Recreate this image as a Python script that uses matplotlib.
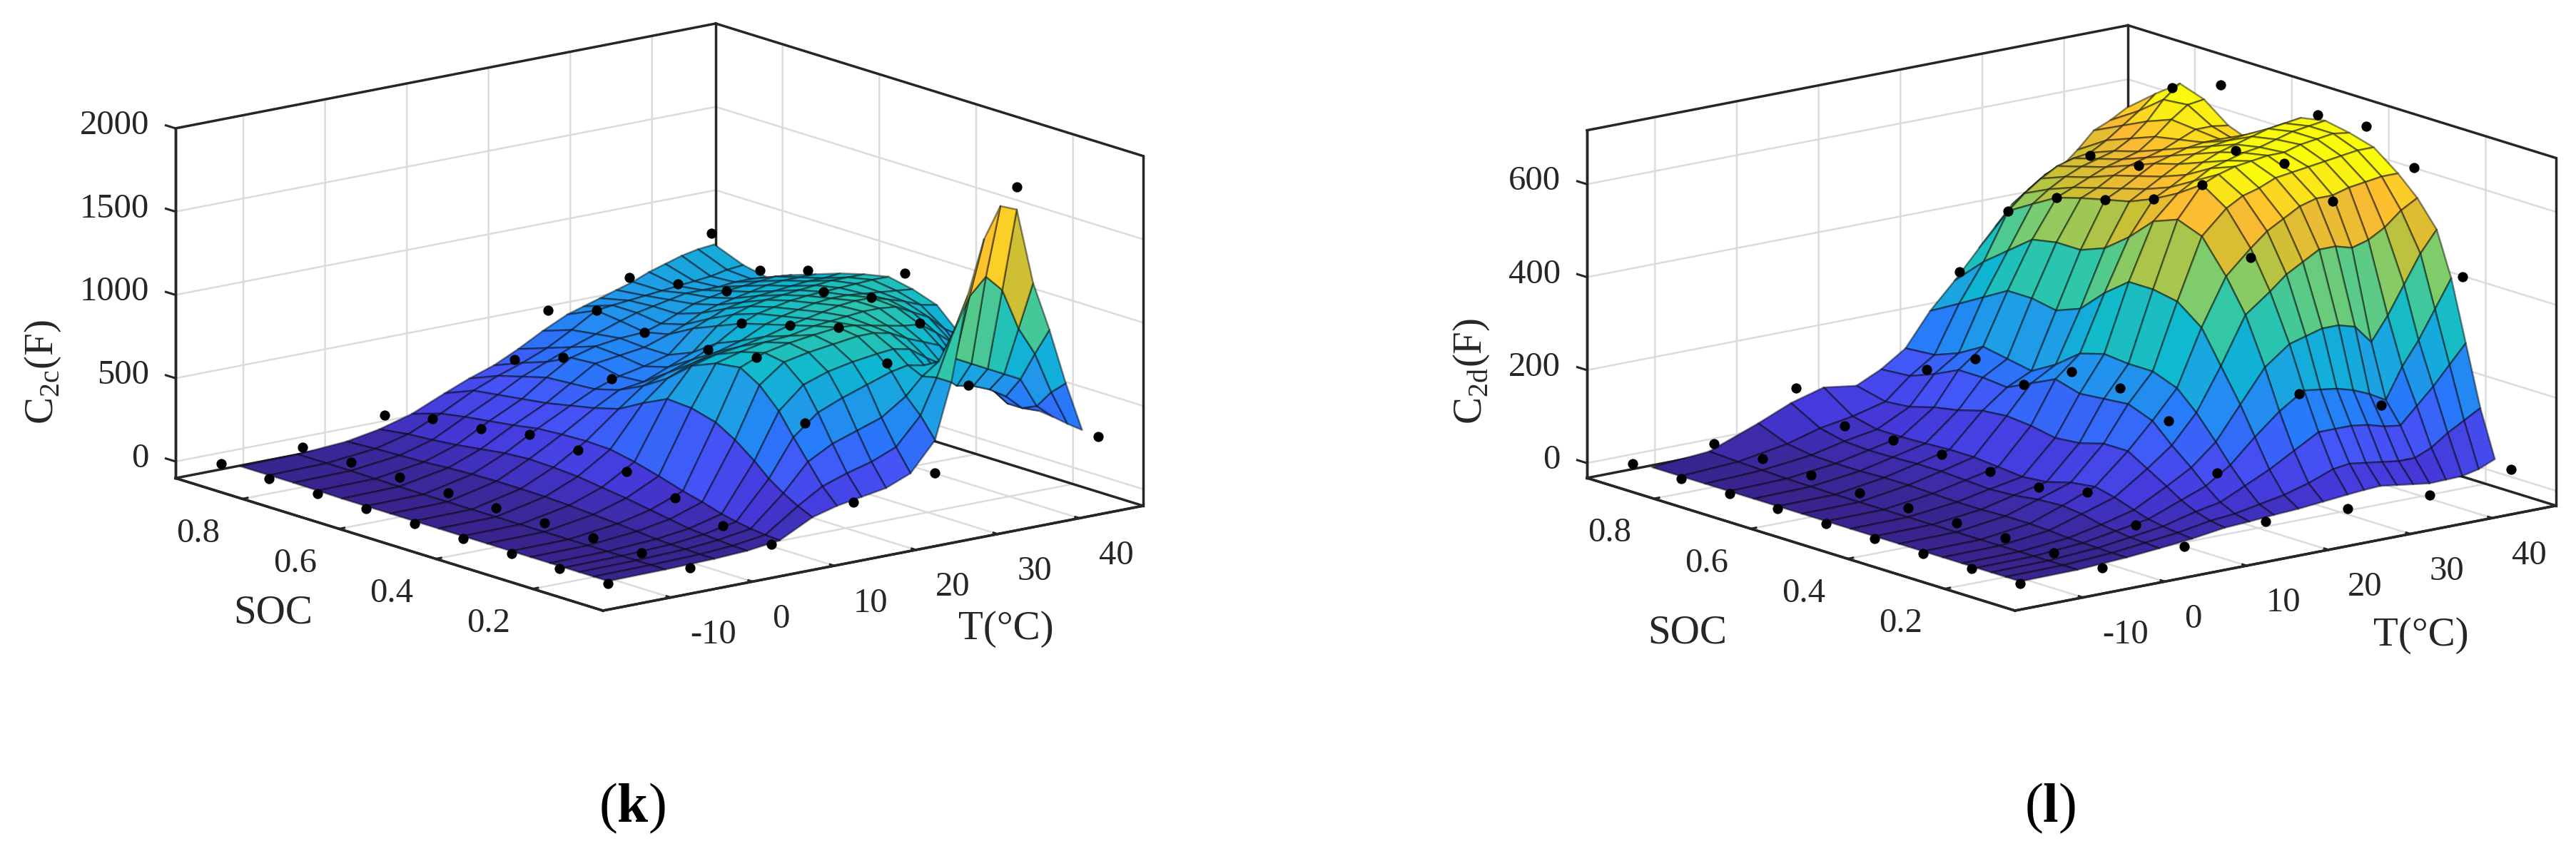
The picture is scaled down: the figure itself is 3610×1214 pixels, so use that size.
import numpy as np
import matplotlib
matplotlib.use('Agg')
import matplotlib.pyplot as plt
from matplotlib.colors import LinearSegmentedColormap
from mpl_toolkits.mplot3d import proj3d

plt.rcParams['font.family'] = ['Liberation Serif', 'DejaVu Serif']
plt.rcParams['mathtext.fontset'] = 'custom'
plt.rcParams['mathtext.rm'] = 'Liberation Serif'
plt.rcParams['mathtext.bf'] = 'Liberation Serif:bold'

# measured points: T in rows, SOC in columns
T_points = [-15, -5, 5, 15, 25, 35, 45]
SOC_points = [0.1, 0.2, 0.3, 0.4, 0.5, 0.6, 0.7, 0.8, 0.9]

# nan = the dot is hidden behind the surface in the picture
nan = np.nan
dots_k = [
    [-10, -10, -10, -10, -10, -10, -10, -10, -10],
    [-10, -10, -10, -10, -10, -10, -5, -5, -5],
    [35, 58, 133, 202, 240, 245, 188, 160, 92],
    [193, 578, 884, 840, nan, 483, 522, 421, nan],
    [275, 842, 966, 890, 811, nan, 578, 618, 528],
    [1898, 614, 897, 963, 906, nan, 729, 685, 633],
    [300, nan, nan, nan, 924, nan, 761, 671, 803],
]
dots_l = [
    [0, 0, 0, 0, 0, 0, 0, 0, 0],
    [0, 0, 0, 0, 0, 0, 5, 8, 8],
    [12, 25, 64, 42, 44, 49, 46, 45, 94],
    [32, 103, 184, 221, 225, 165, 187, 132, nan],
    [25, 240, 500, 625, 562, 528, 500, 439, 276],
    [20, 181, 588, 637, 632, nan, 535, 524, nan],
    [41, 423, 625, 683, 674, nan, 675, 636, nan],
]

# fitted surfaces
T_mesh = [-15, -8, -2, 2, 6, 10, 13, 16, 19, 22, 25, 27, 29, 31, 33, 35, 37, 39, 41, 43]
SOC_mesh = [0.10, 0.13, 0.16, 0.19, 0.22, 0.26, 0.30, 0.35, 0.40,
            0.45, 0.50, 0.55, 0.60, 0.65, 0.70, 0.75, 0.80, 0.86]
surf_k = [
    [5, 5, 5, 5, 5, 5, 5, 5, 5, 5, 5, 5, 5, 5, 8, 10, 10, 10],
    [8, 8, 8, 8, 8, 8, 8, 8, 8, 8, 8, 8, 8, 10, 12, 15, 15, 15],
    [15, 15, 18, 20, 25, 35, 45, 55, 65, 72, 75, 75, 72, 65, 55, 50, 45, 35],
    [25, 28, 35, 42, 50, 70, 90, 115, 135, 155, 165, 170, 160, 140, 120, 105, 95, 70],
    [50, 55, 65, 80, 100, 135, 165, 210, 250, 280, 285, 280, 270, 245, 225, 205, 180, 125],
    [150, 190, 240, 300, 380, 470, 540, 580, 590, 520, 440, 400, 370, 340, 320, 300, 280, 210],
    [190, 280, 400, 520, 650, 770, 840, 820, 760, 640, 550, 480, 440, 430, 420, 380, 340, 270],
    [215, 330, 480, 640, 780, 880, 900, 860, 800, 700, 600, 500, 490, 520, 510, 440, 390, 320],
    [240, 370, 530, 700, 830, 910, 930, 890, 820, 740, 650, 560, 520, 540, 550, 500, 450, 390],
    [300, 430, 580, 750, 860, 930, 950, 900, 850, 780, 720, 620, 560, 560, 570, 550, 530, 470],
    [470, 590, 680, 800, 880, 950, 966, 930, 890, 850, 810, 750, 690, 610, 578, 600, 618, 540],
    [800, 800, 780, 820, 890, 950, 960, 940, 910, 880, 850, 800, 730, 650, 610, 630, 630, 570],
    [1300, 1050, 850, 800, 870, 930, 940, 950, 930, 900, 870, 830, 770, 700, 650, 650, 640, 600],
    [1620, 1250, 850, 720, 800, 880, 920, 960, 950, 920, 890, 850, 790, 730, 690, 670, 650, 630],
    [1800, 1350, 800, 640, 740, 840, 900, 960, 960, 930, 900, 860, 810, 750, 710, 690, 660, 660],
    [1760, 1250, 750, 620, 680, 800, 890, 950, 960, 930, 905, 870, 820, 770, 730, 690, 670, 700],
    [1300, 1000, 700, 580, 620, 700, 820, 900, 930, 920, 910, 880, 830, 790, 740, 690, 680, 730],
    [1000, 830, 650, 520, 540, 620, 740, 850, 900, 910, 915, 890, 840, 800, 750, 700, 690, 760],
    [660, 580, 470, 430, 430, 500, 610, 760, 860, 900, 920, 890, 840, 800, 760, 700, 710, 780],
    [360, 370, 385, 395, 405, 430, 520, 700, 840, 890, 920, 890, 850, 800, 750, 690, 720, 790],
]
surf_l = [
    [5, 5, 5, 5, 5, 5, 5, 5, 5, 5, 5, 5, 5, 5, 5, 5, 5, 5],
    [6, 6, 6, 6, 6, 6, 6, 6, 6, 6, 6, 6, 6, 7, 8, 10, 12, 15],
    [12, 12, 13, 14, 15, 18, 20, 20, 18, 18, 20, 22, 22, 20, 20, 22, 30, 55],
    [18, 20, 22, 26, 30, 40, 45, 42, 35, 32, 35, 38, 38, 36, 35, 38, 50, 85],
    [25, 28, 32, 38, 48, 62, 72, 65, 50, 45, 50, 55, 55, 52, 50, 50, 62, 105],
    [35, 40, 50, 65, 85, 110, 135, 135, 120, 115, 125, 130, 125, 110, 100, 85, 80, 95],
    [38, 45, 60, 85, 115, 150, 190, 210, 205, 200, 215, 190, 165, 170, 170, 145, 125, 120],
    [42, 55, 85, 120, 160, 210, 250, 270, 270, 275, 260, 220, 190, 200, 210, 180, 160, 155],
    [45, 65, 110, 170, 230, 300, 370, 410, 420, 420, 380, 330, 310, 320, 320, 290, 260, 225],
    [50, 80, 140, 215, 300, 400, 470, 540, 560, 540, 490, 450, 430, 430, 420, 380, 340, 280],
    [55, 100, 170, 250, 340, 440, 520, 590, 625, 590, 562, 540, 528, 515, 500, 470, 439, 340],
    [58, 105, 170, 245, 350, 470, 550, 610, 640, 610, 580, 560, 545, 530, 515, 495, 470, 380],
    [60, 100, 170, 240, 360, 490, 570, 620, 650, 630, 600, 580, 565, 550, 530, 515, 495, 420],
    [55, 95, 165, 230, 360, 510, 590, 635, 655, 640, 620, 600, 585, 565, 545, 530, 515, 445],
    [50, 90, 155, 215, 350, 510, 600, 640, 660, 650, 635, 615, 595, 575, 555, 540, 525, 470],
    [45, 90, 150, 195, 310, 500, 600, 645, 660, 655, 645, 625, 605, 585, 565, 550, 530, 480],
    [46, 105, 185, 260, 360, 510, 610, 650, 670, 665, 655, 630, 610, 600, 590, 570, 550, 510],
    [47, 130, 220, 310, 420, 530, 615, 655, 675, 675, 665, 635, 610, 615, 620, 600, 575, 545],
    [55, 150, 260, 370, 480, 560, 620, 660, 680, 680, 670, 635, 600, 615, 645, 640, 600, 560],
    [70, 170, 300, 430, 525, 580, 620, 660, 675, 685, 675, 630, 590, 610, 650, 668, 630, 580],
]

T_ticks = [-10, 0, 10, 20, 30, 40]
SOC_ticks = [0.2, 0.4, 0.6, 0.8]
z_ticks_k = [0, 500, 1000, 1500, 2000]
z_ticks_l = [0, 200, 400, 600]

W, H = 3610, 1214
DARK = (0.15, 0.15, 0.15)
GRID = (0.86, 0.86, 0.86)

parula = LinearSegmentedColormap.from_list('parula_like', [
    (0.22, 0.14, 0.55), (0.27, 0.22, 0.85), (0.27, 0.33, 0.97),
    (0.15, 0.48, 0.98), (0.12, 0.62, 0.90), (0.05, 0.72, 0.82),
    (0.20, 0.78, 0.65), (0.50, 0.80, 0.42), (0.80, 0.75, 0.20),
    (0.99, 0.73, 0.20), (0.98, 0.98, 0.05)])


def make_panel(fig, dots, surf, z_ticks, zlim, zaspect, cmax, left_x, right_x, near_y):
    xlim = (-18.3, 47.8)
    ylim = (0.055, 0.938)
    ax = fig.add_axes([0.1, 0.1, 0.3, 0.3], projection='3d', proj_type='ortho',
                      computed_zorder=False)
    ax.view_init(elev=14.2, azim=-128.35)
    ax.set_xlim(xlim)
    ax.set_ylim(ylim)
    ax.set_zlim(zlim)
    ax.set_box_aspect((1, 1, zaspect))
    ax.patch.set_alpha(0)

    # put the box on the same pixels as the reference
    M = ax.get_proj()
    def frac(x, y, z):
        u, v, _ = proj3d.proj_transform(x, y, z, M)
        return ax.transLimits.transform((u, v))
    near = frac(xlim[0], ylim[0], zlim[0])
    lft = frac(xlim[0], ylim[1], zlim[0])
    rgt = frac(xlim[1], ylim[0], zlim[0])
    size = (right_x - left_x) / (rgt[0] - lft[0])
    x0 = left_x - lft[0] * size
    y0 = (H - near_y) - near[1] * size
    ax.set_position([x0 / W, y0 / H, size / W, size / H])

    for axis in (ax.xaxis, ax.yaxis, ax.zaxis):
        axis.set_pane_color((1, 1, 1, 1))
        axis.pane.set_edgecolor((1, 1, 1, 0))
        axis.line.set_color(DARK)
        axis.line.set_linewidth(2.5)
        axis._axinfo['grid'].update(color=GRID, linewidth=1.8)
        axis._axinfo['tick'].update(inward_factor=0, outward_factor=0.12,
                                    linewidth={True: 2.2, False: 2.2}, color=DARK)
    # mpl puts z on the right for this view, so only its grid is kept
    ax.zaxis._axinfo['tick'].update(outward_factor=0)

    ax.set_xticks(T_ticks)
    ax.set_yticks(SOC_ticks)
    ax.set_zticks(z_ticks)
    ax.set_xticklabels([str(t) for t in T_ticks], ha='left')
    ax.set_yticklabels([str(s) for s in SOC_ticks], ha='right')
    ax.tick_params(axis='both', labelsize=35, colors=DARK, pad=14)
    for tick in ax.zaxis.get_major_ticks():
        tick.label1.set_visible(False)
        tick.label2.set_visible(False)
    ax.xaxis.set_tick_params(pad=16)

    for z in z_ticks:
        ax.plot((xlim[0], xlim[0]), (ylim[1], ylim[1] + 0.02), (z, z),
                color=DARK, lw=2.2, zorder=1)
        ax.text(xlim[0] - 1.3, ylim[1] + 0.0327, z, str(z), fontsize=35, color=DARK,
                ha='right', va='center')

    # back edges of the box, behind the surface
    x0b, x1b = xlim
    y0b, y1b = ylim
    z0b, z1b = zlim
    edges = [
        ((x0b, x1b), (y1b, y1b), (z1b, z1b)),
        ((x1b, x1b), (y0b, y1b), (z1b, z1b)),
        ((x1b, x1b), (y1b, y1b), (z0b, z1b)),
        ((x0b, x0b), (y1b, y1b), (z0b, z1b)),
        ((x1b, x1b), (y0b, y0b), (z0b, z1b)),
        ((x0b, x1b), (y1b, y1b), (z0b, z0b)),
        ((x1b, x1b), (y0b, y1b), (z0b, z0b)),
        ((x0b, x1b), (y0b, y0b), (z0b, z0b)),
        ((x0b, x0b), (y0b, y1b), (z0b, z0b)),
    ]
    for ex, ey, ez in edges:
        ax.plot(ex, ey, ez, color=DARK, lw=2.5, zorder=1, solid_capstyle='projecting')

    X, Y = np.meshgrid(T_mesh, SOC_mesh, indexing='ij')
    Z = np.array(surf, dtype=float)
    ax.plot_surface(X, Y, Z, cmap=parula, vmin=Z.min(), vmax=cmax,
                    rstride=1, cstride=1, edgecolor=(0, 0, 0, 0.45),
                    linewidth=1.8, antialiased=True, shade=False, zorder=2)

    PX, PY = np.meshgrid(T_points, SOC_points, indexing='ij')
    ax.scatter(PX.ravel(), PY.ravel(), np.array(dots, dtype=float).ravel(),
               c='k', s=105, linewidths=0, depthshade=False, zorder=3)
    return ax


fig = plt.figure(figsize=(W / 100, H / 100), dpi=100)
fig.patch.set_facecolor('white')

make_panel(fig, dots_k, surf_k, z_ticks_k, (-100, 2000), 0.524, 1650, 246, 1602, 856)
make_panel(fig, dots_l, surf_l, z_ticks_l, (-32, 716), 0.52, 640, 2224, 3582, 856)

labels = [
    ('SOC', 383, 860, 0), ('T(°C)', 1410, 882, 0),
    (r'C$_{\mathrm{2c}}$(F)', 60, 522, 90),
    ('SOC', 2365, 888, 0), ('T(°C)', 3393, 891, 0),
    (r'C$_{\mathrm{2d}}$(F)', 2062, 520, 90),
]
for text, px, py, rot in labels:
    fig.text(px / W, 1 - py / H, text, fontsize=41, color=DARK, rotation=rot,
             ha='center', va='center')

fig.text(886 / W, 1 - 1133 / H, r'($\mathbf{k}$)', fontsize=56, ha='center', va='center')
fig.text(2873 / W, 1 - 1133 / H, r'($\mathbf{l}$)', fontsize=56, ha='center', va='center')

fig.savefig('out.png', dpi=100)
